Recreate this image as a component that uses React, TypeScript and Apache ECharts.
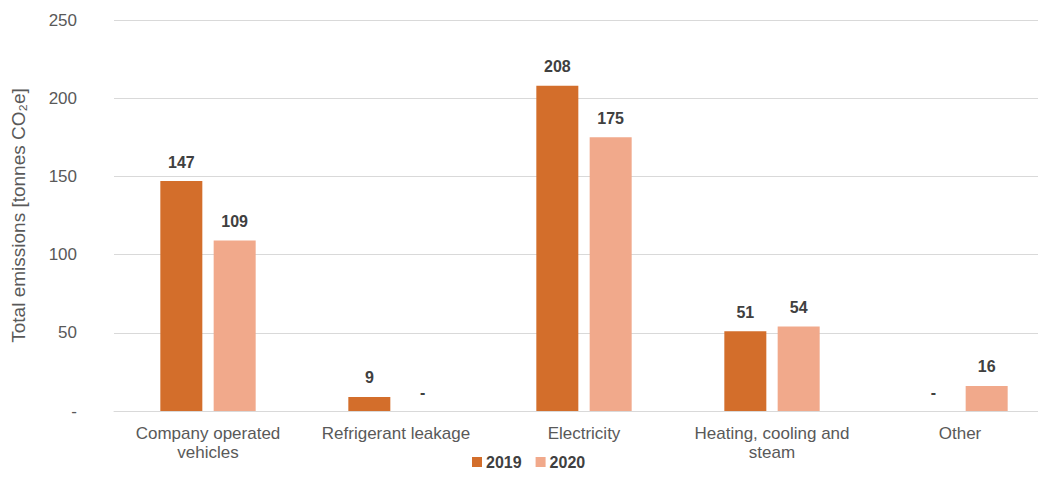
import React, { useEffect, useRef } from "react";
import * as echarts from "echarts";

const categories = [
  "Company operated\nvehicles",
  "Refrigerant leakage",
  "Electricity",
  "Heating, cooling and\nsteam",
  "Other",
];
const values2019 = [147, 9, 208, 51, 0];
const values2020 = [109, 0, 175, 54, 16];
const yTicks = [0, 50, 100, 150, 200, 250];

const FONT = "'Liberation Sans', Arial, sans-serif";

export default function App() {
  const ref = useRef<HTMLDivElement>(null);
  useEffect(() => {
    if (!ref.current) return;
    const chart = echarts.init(ref.current, undefined, { renderer: "svg" });
    const labelCfg = {
      show: true,
      position: "top" as const,
      distance: 11,
      color: "#404040",
      fontSize: 16,
      fontWeight: "bold" as const,
      fontFamily: FONT,
      formatter: (p: any) => (p.value === 0 ? "-" : String(p.value)),
    };
    chart.setOption({
      animation: false,
      grid: { left: 114, right: 6, top: 20, bottom: 85, containLabel: false },
      legend: {
        bottom: 21,
        left: 467,
        itemWidth: 10,
        itemHeight: 10,
        itemGap: 14,
        icon: "rect",
        textStyle: {
          color: "#404040",
          fontSize: 16,
          fontWeight: "bold",
          fontFamily: FONT,
          padding: [0, 0, 0, -1],
        },
        data: ["2019", "2020"],
      },
      xAxis: {
        type: "category",
        data: categories,
        axisLine: { lineStyle: { color: "#d9d9d9", width: 1 } },
        axisTick: { show: false },
        axisLabel: {
          color: "#595959",
          fontSize: 17,
          fontFamily: FONT,
          margin: 13,
          lineHeight: 19,
          interval: 0,
        },
      },
      yAxis: {
        type: "value",
        min: 0,
        max: 250,
        interval: 50,
        name: "Total emissions [tonnes CO₂e]",
        nameLocation: "middle",
        nameGap: 86,
        nameTextStyle: { color: "#595959", fontSize: 19, fontFamily: FONT },
        axisLine: { show: false },
        axisTick: { show: false },
        splitLine: { lineStyle: { color: "#d9d9d9", width: 1 } },
        axisLabel: {
          color: "#595959",
          fontSize: 17,
          fontFamily: FONT,
          margin: 37,
          formatter: (v: number) => (v === 0 ? "-" : String(v)),
          customValues: yTicks,
        },
      },
      series: [
        {
          name: "2019",
          type: "bar",
          data: values2019,
          barWidth: 42,
          barGap: "27%",
          itemStyle: { color: "#D36E2B" },
          label: labelCfg,
        },
        {
          name: "2020",
          type: "bar",
          data: values2020,
          barWidth: 42,
          itemStyle: { color: "#F1A98B" },
          label: labelCfg,
        },
      ],
    });
    return () => chart.dispose();
  }, []);
  return (
    <div
      style={{ position: "absolute", left: 0, top: 0, width: 1038, height: 496, overflow: "hidden", background: "#fff" }}
    >
      <div ref={ref} style={{ width: 1060, height: 496 }} />
    </div>
  );
}
